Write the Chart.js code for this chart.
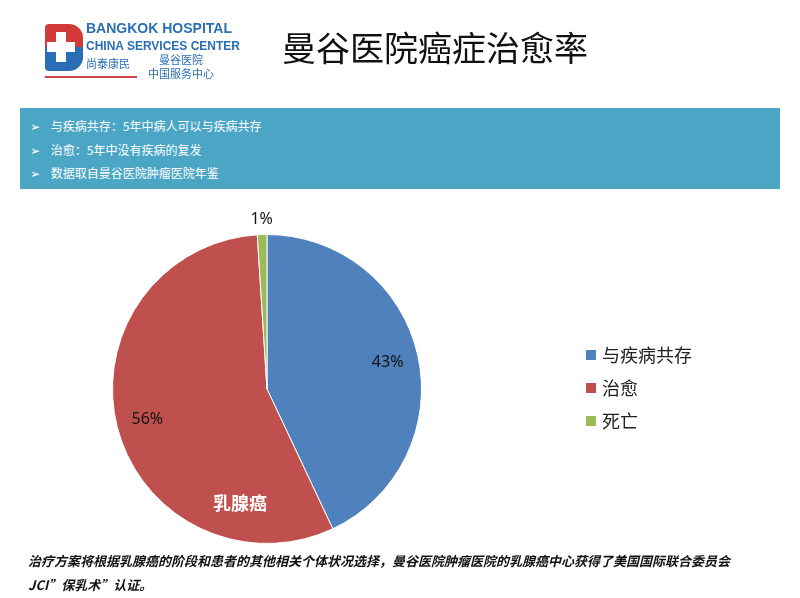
<!DOCTYPE html>
<html><head><meta charset="utf-8">
<script src="https://cdn.jsdelivr.net/npm/chart.js@4/dist/chart.umd.min.js"></script>
<style>
body{margin:0;width:800px;height:598px;background:#fff;position:relative;overflow:hidden;font-family:"Noto Sans CJK SC","Noto Sans",sans-serif}
#c{position:absolute;left:0;top:0}
.abs{position:absolute}
</style></head><body>
<canvas id="c" width="800" height="598"></canvas>
<div class="abs" style="left:45px;top:24px;width:38px;height:46px;background:#d23a3a;border-radius:4px 14px 14px 4px"></div>
<div class="abs" style="left:45px;top:47px;width:38px;height:24px;background:#2a6fb5;border-radius:0 0 14px 4px"></div>
<div class="abs" style="left:56px;top:32px;width:10px;height:30px;background:#fff"></div>
<div class="abs" style="left:47px;top:42px;width:28px;height:10px;background:#fff"></div>
<div class="abs" style="left:86px;top:20px;font:bold 14px 'Liberation Sans',Arial;color:#2a6fb5;line-height:17px">BANGKOK HOSPITAL<br><span style="font-size:12px">CHINA SERVICES CENTER</span></div>
<div class="abs" style="left:86px;top:55px;font:11px 'Noto Sans CJK SC';color:#2a6fb5">尚泰康民</div>
<div class="abs" style="left:148px;top:52px;font:11px 'Noto Sans CJK SC';color:#2a6fb5;line-height:14px;text-align:center">曼谷医院<br>中国服务中心</div>
<div class="abs" style="left:45px;top:76px;width:92px;height:2px;background:#c44"></div>
<div class="abs" style="left:282px;top:22px;font:34px 'Noto Sans CJK SC';color:#111">曼谷医院癌症治愈率</div>
<div class="abs" style="left:20px;top:108px;width:760px;height:81px;background:#4aa6c4"></div>
<div class="abs" style="left:30px;top:114px;font:12px 'Noto Sans CJK SC';color:#fff;line-height:23.5px">
<div>➢&nbsp;&nbsp;&nbsp; 与疾病共存：5年中病人可以与疾病共存</div>
<div>➢&nbsp;&nbsp;&nbsp; 治愈：5年中没有疾病的复发</div>
<div>➢&nbsp;&nbsp;&nbsp; 数据取自曼谷医院肿瘤医院年鉴</div></div>
<div class="abs" style="left:28px;top:549px;font:italic bold 13px 'Noto Sans CJK SC';color:#111;line-height:24px">治疗方案将根据乳腺癌的阶段和患者的其他相关个体状况选择，曼谷医院肿瘤医院的乳腺癌中心获得了美国国际联合委员会<br>JCI”保乳术”认证。</div>
<script>
const categories=["与疾病共存","治愈","死亡"];
const values=[43,56,1];
const colors=["#4f81bd","#c0504d","#9bbb59"];
const pieTitle="乳腺癌";
const labelPlugin={id:"lbl",afterDraw(ch){
 const ctx=ch.ctx,meta=ch.getDatasetMeta(0);
 ctx.save();ctx.textAlign="center";ctx.textBaseline="middle";
 meta.data.forEach((a,i)=>{
  const mid=(a.startAngle+a.endAngle)/2;
  const r=i===2?a.outerRadius+15:a.outerRadius*0.8;
  ctx.font="16px 'Noto Sans','DejaVu Sans',sans-serif";ctx.fillStyle="#111";
  ctx.fillText(values[i]+"%",a.x+Math.cos(mid)*r,a.y+Math.sin(mid)*r);
 });
 const a=meta.data[0];
 ctx.font="bold 18px 'Noto Sans CJK SC'";ctx.fillStyle="#fff";
 ctx.fillText(pieTitle,a.x-27,a.y+114);
 ctx.textAlign="left";
 categories.forEach((c,i)=>{
  const y=355+i*33;
  ctx.fillStyle=colors[i];ctx.fillRect(586,y-5,10,10);
  ctx.fillStyle="#222";ctx.font="18px 'Noto Sans CJK SC'";
  ctx.fillText(c,602,y);
 });
 ctx.restore();}};
new Chart(document.getElementById("c"),{type:"pie",
 data:{labels:categories,datasets:[{data:values,backgroundColor:colors,borderColor:"#fff",borderWidth:1}]},
 options:{responsive:false,animation:false,layout:{padding:{left:112,right:378,top:234,bottom:54}},
  plugins:{legend:{display:false},tooltip:{enabled:false}}},
 plugins:[labelPlugin]});
</script></body></html>
